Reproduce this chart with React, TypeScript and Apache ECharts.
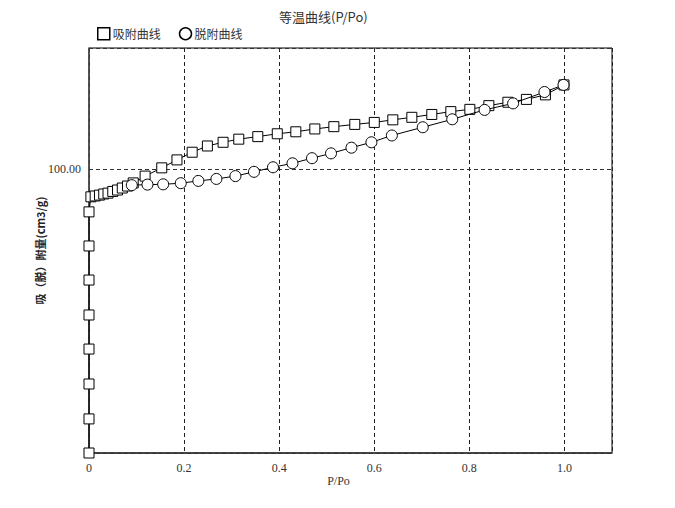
import React, { useEffect, useRef } from "react";
import * as echarts from "echarts";

const titleText = "等温曲线(P/Po)";
const seriesNames = ["吸附曲线", "脱附曲线"];
const xAxisName = "P/Po";
const yAxisName = "吸（脱）附量(cm3/g)";

// adsorption (squares)
const adsX = [
  0, 0, 0, 0, 0, 0, 0, 0,
  0.004, 0.013, 0.022, 0.031, 0.040, 0.050, 0.060, 0.070, 0.081, 0.093, 0.118, 0.153,
  0.185, 0.217, 0.249, 0.282, 0.315, 0.355, 0.396, 0.435, 0.475, 0.515, 0.559, 0.600,
  0.639, 0.679, 0.721, 0.761, 0.801, 0.841, 0.881, 0.920, 0.960, 0.999,
];
const adsY = [
  0, 12.0, 24.3, 36.6, 48.6, 60.9, 72.9, 84.9,
  90.2, 90.5, 90.8, 91.2, 91.5, 92.1, 92.6, 93.3, 94.0, 95.1, 97.5, 100.4,
  103.2, 105.9, 108.1, 109.4, 110.5, 111.4, 112.4, 113.1, 114.1, 114.9, 115.7, 116.4,
  117.3, 118.2, 119.2, 120.2, 121.0, 122.3, 123.5, 124.5, 126.1, 129.6,
];

// desorption (circles)
const desX = [
  0.090, 0.123, 0.156, 0.193, 0.230, 0.268, 0.308, 0.347, 0.387, 0.428, 0.469,
  0.509, 0.552, 0.594, 0.637, 0.702, 0.764, 0.832, 0.892, 0.958, 0.998,
];
const desY = [
  94.3, 94.5, 94.6, 95.0, 95.8, 96.5, 97.5, 99.0, 100.6, 102.0, 103.8,
  105.5, 107.5, 109.4, 111.8, 114.7, 117.5, 120.8, 123.1, 127.1, 129.6,
];

const xMin = 0;
const xMax = 1.1;
const xStep = 0.2;
const xLastLabel = 1.0;
const yMin = 0;
const yMax = 142.6;
const yStep = 100;
const yLabelShown = 100;

const numFont = "'Liberation Serif', 'Noto Sans CJK SC', serif";
const cjkFont = "'Noto Sans CJK SC', 'Liberation Serif', sans-serif";

export default function App() {
  const ref = useRef<HTMLDivElement>(null);
  useEffect(() => {
    if (!ref.current) return;
    const chart = echarts.init(ref.current, undefined, { renderer: "svg" });
    const ads = adsX.map((x, i) => [x, adsY[i]]);
    const des = desX.map((x, i) => [x, desY[i]]);
    chart.setOption({
      animation: false,
      backgroundColor: "#fff",
      title: {
        text: titleText,
        left: 271,
        top: 2,
        padding: 0,
        textStyle: { fontSize: 13, fontWeight: "normal", color: "#333", fontFamily: cjkFont },
      },
      legend: {
        left: 89,
        top: 19,
        padding: 0,
        itemWidth: 12,
        itemHeight: 12,
        itemGap: 18,
        textStyle: { fontSize: 12, color: "#333", fontFamily: cjkFont, padding: [0, 0, 0, -2] },
        data: [
          { name: seriesNames[0], icon: "rect", itemStyle: { color: "#fff", borderColor: "#000", borderWidth: 1.5 } },
          { name: seriesNames[1], icon: "circle", itemStyle: { color: "#fff", borderColor: "#000", borderWidth: 1.5 } },
        ],
      },
      grid: {
        left: 81,
        right: 55,
        top: 40,
        bottom: 47,
        show: true,
        borderColor: "#000",
        borderWidth: 1,
        backgroundColor: "transparent",
      },
      xAxis: {
        type: "value",
        min: xMin,
        max: xMax,
        interval: xStep,
        name: xAxisName,
        nameLocation: "middle",
        nameGap: 22,
        nameMoveOverlap: false,
        nameTextStyle: { fontSize: 12, color: "#333", fontFamily: numFont, padding: [0, 24, 0, 0] },
        axisLine: { show: true, lineStyle: { color: "#333", width: 1.5 } },
        axisTick: { show: false },
        axisLabel: {
          margin: 9,
          fontSize: 12,
          color: "#333",
          fontFamily: numFont,
          formatter: (v: number) => (v === 0 ? "0" : v > xLastLabel + 1e-6 ? "" : v.toFixed(1)),
        },
        splitLine: { show: true, lineStyle: { color: "#222", type: [4, 3], width: 1 } },
      },
      yAxis: {
        type: "value",
        min: yMin,
        max: yMax,
        interval: yStep,
        name: yAxisName,
        nameLocation: "middle",
        nameGap: 44,
        nameMoveOverlap: false,
        nameRotate: 90,
        nameTextStyle: { fontSize: 11, fontWeight: "bold", color: "#222", fontFamily: cjkFont },
        axisLine: { show: true, lineStyle: { color: "#444", width: 1.5 } },
        axisTick: { show: false },
        axisLabel: {
          margin: 8,
          fontSize: 12,
          color: "#333",
          fontFamily: numFont,
          formatter: (v: number) => (v === yLabelShown ? v.toFixed(2) : ""),
        },
        splitLine: { show: true, lineStyle: { color: "#333", type: [4, 3], width: 1 } },
      },
      series: [
        {
          name: seriesNames[0],
          type: "line",
          data: ads,
          symbol: "rect",
          symbolSize: 10,
          showAllSymbol: true,
          itemStyle: { color: "#fff", borderColor: "#000", borderWidth: 1 },
          lineStyle: { color: "#000", width: 1 },
          z: 3,
        },
        {
          name: seriesNames[1],
          type: "line",
          data: des,
          symbol: "circle",
          symbolSize: 11,
          showAllSymbol: true,
          itemStyle: { color: "#fff", borderColor: "#000", borderWidth: 1 },
          lineStyle: { color: "#000", width: 1 },
          z: 4,
        },
      ],
    });
    return () => chart.dispose();
  }, []);
  return <div ref={ref} style={{ width: 659, height: 492 }} />;
}
